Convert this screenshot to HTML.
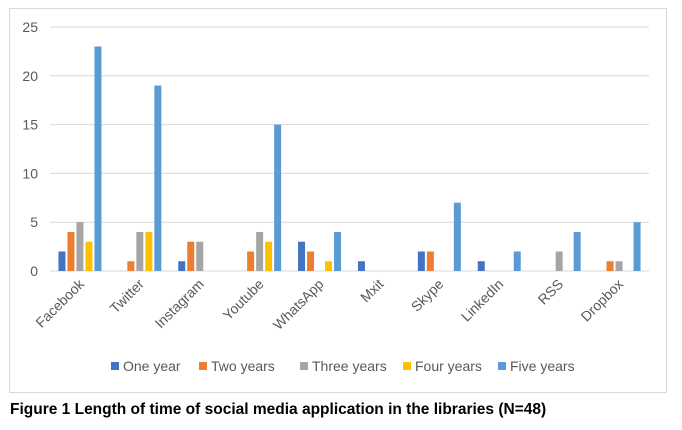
<!DOCTYPE html>
<html><head><meta charset="utf-8"><style>
body{margin:0;width:682px;height:425px;background:#fff;font-family:"Liberation Sans",Arial,sans-serif;overflow:hidden}
</style></head><body>
<svg width="682" height="425">
<rect x="9.5" y="8.5" width="657" height="384" fill="#fff" stroke="#d9d9d9"/>
<g id="grid"></g><g id="bars"></g><g id="xl"></g><g id="leg"></g>
<text x="10" y="414" font-size="15.5" font-weight="bold" fill="#000">Figure 1 Length of time of social media application in the libraries (N=48)</text>
</svg>
<script>
const categories=["Facebook","Twitter","Instagram","Youtube","WhatsApp","Mxit","Skype","LinkedIn","RSS","Dropbox"];
const oneYear=[2,0,1,0,3,1,2,1,0,0];
const twoYears=[4,1,3,2,2,0,2,0,0,1];
const threeYears=[5,4,3,4,0,0,0,0,2,1];
const fourYears=[3,4,0,3,1,0,0,0,0,0];
const fiveYears=[23,19,0,15,4,0,7,2,4,5];
const seriesNames=["One year","Two years","Three years","Four years","Five years"];
const colors=["#4472c4","#ed7d31","#a5a5a5","#ffc000","#5b9bd5"];
const yTicks=[0,5,10,15,20,25];
const series=[oneYear,twoYears,threeYears,fourYears,fiveYears];
const NS="http://www.w3.org/2000/svg";
const x0=50,x1=649,y0=271,yTop=27,ymax=25;
const y=v=>y0-(y0-yTop)*v/ymax;
const cw=(x1-x0)/categories.length;
function mk(t,a,p){const e=document.createElementNS(NS,t);for(const k in a)e.setAttribute(k,a[k]);p.appendChild(e);return e;}
const g=document.getElementById('grid');
yTicks.forEach(t=>{
 const l=mk('line',{x1:x0,x2:x1,y1:y(t),y2:y(t),stroke:'#d9d9d9'},g);
 
 
 const tx=mk('text',{x:38,y:y(t)+5,'font-size':14,fill:'#595959','text-anchor':'end'},g);
 tx.textContent=t;
 
 
});
const b=document.getElementById('bars');
const pitch=9,bw=7;
categories.forEach((c,i)=>{
 const cx=x0+cw*(i+0.5);
 series.forEach((s,j)=>{
  const v=s[i]; if(!v)return;
  const bx=cx+(j-2)*pitch-bw/2;
  const r=mk('rect',{x:bx,y:y(v),width:bw,height:y0-y(v),fill:colors[j]},b);
  
  
 });
 const t=mk('text',{transform:`translate(${cx+5},${y0+14}) rotate(-45)`,'font-size':14,fill:'#595959','text-anchor':'end'},document.getElementById('xl'));
 t.textContent=c;
 
 
});
const lg=document.getElementById('leg');
const lx=[111,199,300,403,498];
seriesNames.forEach((n,j)=>{
 const r=mk('rect',{x:lx[j],y:362,width:8,height:8,fill:colors[j]},lg);
 
 
 const t=mk('text',{x:lx[j]+12,y:371,'font-size':14,fill:'#595959'},lg);
 t.textContent=n;
 
 
});
</script>
</body></html>
